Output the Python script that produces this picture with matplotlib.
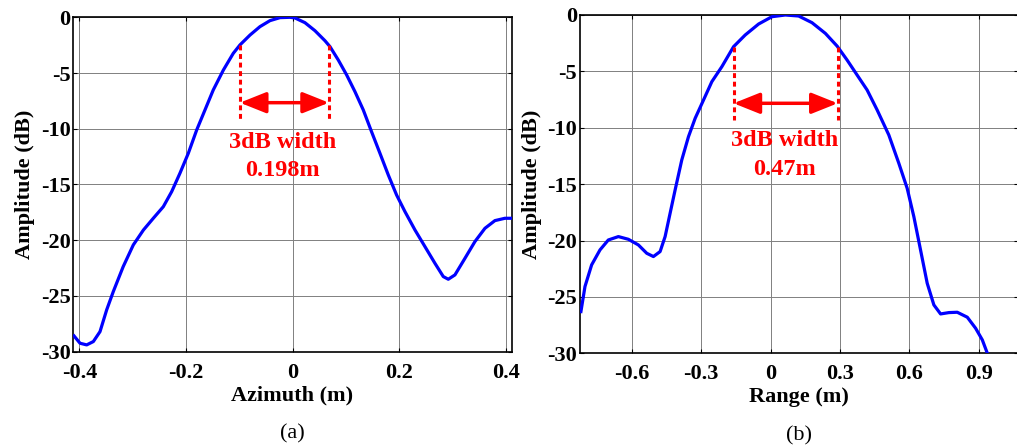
import matplotlib
matplotlib.use("Agg")
import matplotlib.pyplot as plt

plt.rcParams['font.family'] = ['Liberation Serif', 'DejaVu Serif']

# Panel (a): azimuth profile
az_x = [-0.4103, -0.399, -0.3865, -0.374, -0.3615, -0.349, -0.3365, -0.318, -0.299, -0.280,
        -0.2615, -0.2427, -0.227, -0.2115, -0.1958, -0.180, -0.1645, -0.149, -0.130, -0.1114,
        -0.0989, -0.080, -0.0614, -0.0426, -0.0238, -0.0051, 0.0043, 0.023, 0.0418, 0.0606,
        0.070, 0.0856, 0.1013, 0.1169, 0.1325, 0.148, 0.1638, 0.1794, 0.195, 0.2107,
        0.2295, 0.2482, 0.267, 0.2826, 0.292, 0.3045, 0.3233, 0.342, 0.3608, 0.3795,
        0.3983, 0.411]
az_y = [-28.58, -29.24, -29.39, -29.09, -28.2, -26.25, -24.6, -22.37, -20.42, -19.08,
        -18.03, -16.99, -15.64, -13.99, -12.2, -10.1, -8.31, -6.52, -4.73, -3.23,
        -2.48, -1.59, -0.84, -0.30, -0.03, 0.0, -0.06, -0.48, -1.2, -2.1,
        -2.63, -3.83, -5.17, -6.67, -8.31, -10.26, -12.2, -14.14, -15.94, -17.43,
        -19.08, -20.57, -22.07, -23.26, -23.5, -23.11, -21.62, -20.12, -18.93, -18.24,
        -18.03, -18.03]
az_marks = [-0.099, 0.068]
az_text = ["3dB width", "0.198m"]
az_xticks = [-0.4, -0.2, 0, 0.2, 0.4]
az_xticklabels = ["-0.4", "-0.2", "0", "0.2", "0.4"]

# Panel (b): range profile
rg_x = [-0.82, -0.8025, -0.7737, -0.7375, -0.7015, -0.658, -0.6149, -0.5716, -0.5354, -0.5066,
        -0.4777, -0.456, -0.4344, -0.4127, -0.3839, -0.355, -0.3261, -0.29, -0.2539, -0.2106,
        -0.1601, -0.1096, -0.0518, 0.006, 0.0637, 0.1214, 0.179, 0.2369, 0.2874, 0.3307,
        0.374, 0.4174, 0.4607, 0.5112, 0.5545, 0.5906, 0.6194, 0.6483, 0.6772, 0.706,
        0.735, 0.771, 0.8071, 0.8505, 0.8865, 0.9154, 0.937]
rg_y = [-26.3, -24.08, -22.16, -20.83, -19.95, -19.65, -19.89, -20.39, -21.13, -21.42,
        -20.98, -19.65, -17.58, -15.51, -12.85, -10.79, -9.16, -7.54, -5.91, -4.58,
        -2.81, -1.77, -0.8, -0.15, 0.0, -0.09, -0.68, -1.63, -2.75, -3.99,
        -5.32, -6.65, -8.42, -10.64, -13.15, -15.37, -17.88, -20.83, -23.79, -25.71,
        -26.51, -26.39, -26.36, -26.8, -27.78, -28.81, -29.99]
rg_marks = [-0.160, 0.290]
rg_text = ["3dB width", "0.47m"]
rg_xticks = [-0.6, -0.3, 0, 0.3, 0.6, 0.9]
rg_xticklabels = ["-0.6", "-0.3", "0", "0.3", "0.6", "0.9"]

yticks = [0, -5, -10, -15, -20, -25, -30]
yticklabels = ["0", "-5", "-10", "-15", "-20", "-25", "-30"]

fig = plt.figure(figsize=(10.17, 4.48), dpi=100)
W, H = 1017, 448

def make_axes(px_left, px_right, px_top, px_bottom):
    return fig.add_axes([px_left / W, 1 - px_bottom / H,
                         (px_right - px_left) / W, (px_bottom - px_top) / H])

ax1 = make_axes(73.3, 511.7, 17.3, 351.7)
ax2 = make_axes(580, 1017.6, 15, 353.3)

fs = 16

def style(ax, x, y, xlim, xticks, xtl, xlabel, marks, dash_top, arrow_y, texts, text_x, text_y, caption):
    ax.plot(x, y, color='#0000ff', lw=2.3, zorder=3, solid_joinstyle='round')
    ax.set_xlim(*xlim)
    ax.set_ylim(-30, 0)
    ax.set_xticks(xticks)
    ax.set_xticklabels(xtl)
    ax.set_yticks(yticks)
    ax.set_yticklabels(yticklabels)
    for t in ax.get_xticklabels() + ax.get_yticklabels():
        t.set_fontweight('bold')
        t.set_fontsize(fs)
    ax.tick_params(direction='in', length=3, width=0.8, top=True, right=True)
    ax.tick_params(axis='x', pad=8)
    ax.tick_params(axis='y', pad=2)
    ax.grid(True, color='#808080', lw=0.7, ls='-')
    ax.set_axisbelow(True)
    for s in ax.spines.values():
        s.set_linewidth(1.2)
    ax.set_xlabel(xlabel, fontsize=fs, fontweight='bold', labelpad=2)
    ax.set_ylabel("Amplitude (dB)", fontsize=fs, fontweight='bold', labelpad=4)
    # 3 dB markers
    for m in marks:
        ax.plot([m, m], [dash_top, -9.3], color='red', lw=2.2, ls=(0, (1.6, 1.2)), zorder=4)
    ax.annotate('', xy=(marks[0], arrow_y), xytext=(marks[1], arrow_y),
                arrowprops=dict(arrowstyle='<|-|>,head_length=0.8,head_width=0.32',
                                color='red', lw=2.5, mutation_scale=20,
                                shrinkA=0, shrinkB=0), zorder=5)
    for t, ty in zip(texts, text_y):
        ax.text(text_x, ty, t, color='red', fontsize=17.5, fontweight='bold',
                ha='center', va='center', zorder=5)
    ax.text(0.5, -0.245, caption, transform=ax.transAxes, fontsize=fs,
            ha='center', va='center')

style(ax1, az_x, az_y, (-0.4116, 0.411), az_xticks, az_xticklabels, "Azimuth (m)",
      az_marks, -2.5, -7.66, az_text, -0.019, [-11.2, -13.7], "(a)")
style(ax2, rg_x, rg_y, (-0.824, 1.068), rg_xticks, rg_xticklabels, "Range (m)",
      rg_marks, -2.8, -7.83, rg_text, 0.062, [-11.1, -13.7], "(b)")
ax2.texts[-1].set_position((0.5, -0.245))

fig.savefig("out.png", dpi=100)
